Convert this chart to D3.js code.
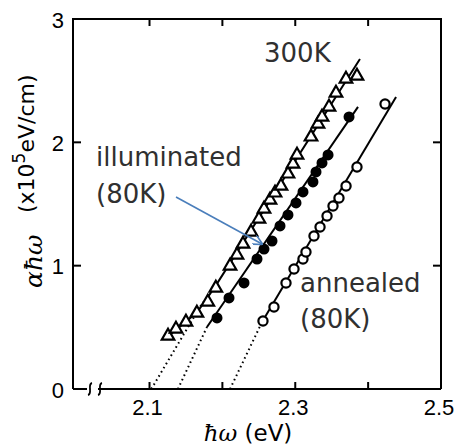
<!DOCTYPE html>
<html>
<head>
<meta charset="utf-8">
<script src="https://cdn.jsdelivr.net/npm/d3@7"></script>
<style>
    body { margin: 0; background: #fff; }
    svg { display: block; }
</style>
</head>
<body>
<svg id="chart"></svg>
<script>
// photon energy (eV), alpha*hbar*omega (x10^5 eV/cm)
const room300 = [
    [2.1254, 0.43], [2.1363, 0.487], [2.150, 0.543], [2.165, 0.616], [2.180, 0.706],
    [2.191, 0.819], [2.2105, 0.998], [2.220, 1.087], [2.2283, 1.176], [2.2393, 1.273],
    [2.2502, 1.379], [2.2571, 1.46], [2.2653, 1.533], [2.2722, 1.59], [2.2804, 1.646],
    [2.290, 1.744], [2.2969, 1.825], [2.3024, 1.898], [2.3216, 2.044], [2.3312, 2.149],
    [2.3367, 2.206], [2.3463, 2.287], [2.3559, 2.40], [2.3696, 2.514], [2.3847, 2.538],
];
const illum80 = [
    [2.1926, 0.576], [2.2091, 0.738], [2.2297, 0.86], [2.2475, 1.054], [2.2571, 1.135],
    [2.2681, 1.20], [2.2791, 1.322], [2.290, 1.411], [2.301, 1.509], [2.3106, 1.598],
    [2.3243, 1.679], [2.3285, 1.76], [2.3367, 1.833], [2.345, 1.898], [2.3738, 2.206],
];
const anneal80 = [
    [2.2557, 0.551], [2.2708, 0.665], [2.2873, 0.86], [2.2983, 0.973], [2.3106, 1.054],
    [2.3147, 1.111], [2.3257, 1.241], [2.334, 1.314], [2.3436, 1.403], [2.3518, 1.484],
    [2.360, 1.549], [2.3697, 1.646], [2.3847, 1.80], [2.4232, 2.311],
];

// solid guide lines and dotted extrapolations to the energy axis
const room300Fit = [[2.124, 0.42], [2.165, 0.62], [2.19, 0.83], [2.3888, 2.676]];
const illum80Fit = [[2.1789, 0.503], [2.3861, 2.287]];
const anneal80Fit = [[2.2544, 0.543], [2.4383, 2.368]];
const room300Dots = [[2.1025, 0], [2.1734, 0.706]];
const illum80Dots = [[2.139, 0], [2.1789, 0.503]];
const anneal80Dots = [[2.2105, 0], [2.2544, 0.543]];

const xTicks = [2.1, 2.2, 2.3, 2.4, 2.5];
const xTickLabels = ['2.1', '', '2.3', '', '2.5'];
const yTicks = [0, 1, 2, 3];

class Tauc {
    margin = { top: 19, right: 21, bottom: 58, left: 73 };

    constructor(svg, width = 462, height = 447) {
        this.svg = d3.select(svg);
        this.width = width;
        this.height = height;
    }

    initialize() {
        this.svg.attr('width', this.width).attr('height', this.height);
        this.svg.append('rect').attr('width', this.width).attr('height', this.height).attr('fill', '#fff');

        const m = this.margin;
        this.x0 = m.left;
        this.x1 = this.width - m.right;
        this.y0 = this.height - m.bottom;
        this.y1 = m.top;

        this.xScale = d3.scaleLinear().domain([1.995, 2.5]).range([this.x0, this.x1]);
        this.yScale = d3.scaleLinear().domain([0, 3]).range([this.y0, this.y1]);

        this.frame = this.svg.append('g');
        this.plot = this.svg.append('g');
        this.notes = this.svg.append('g');
    }

    drawFrame() {
        const x = this.xScale, y = this.yScale;
        const f = this.frame.attr('stroke', '#000').attr('stroke-width', 2).attr('fill', 'none');

        // left, top, right
        f.append('path').attr('d', `M${this.x0},${this.y0}V${this.y1}H${this.x1}V${this.y0}`);
        // bottom with the axis break
        f.append('path').attr('d', `M${this.x0},${this.y0}H${this.x0 + 14}`);
        f.append('path').attr('d', `M${this.x0 + 25},${this.y0}H${this.x1}`);
        [this.x0 + 17, this.x0 + 27].forEach(bx => {
            f.append('path')
                .attr('stroke-width', 1.8)
                .attr('d', `M${bx - 2},${this.y0 + 6} C${bx + 3},${this.y0 + 5} ${bx - 3},${this.y0 - 5} ${bx + 2},${this.y0 - 6}`);
        });

        const tk = 7;
        xTicks.slice(0, -1).forEach(t => {
            f.append('line').attr('x1', x(t)).attr('x2', x(t)).attr('y1', this.y0).attr('y2', this.y0 - tk);
            f.append('line').attr('x1', x(t)).attr('x2', x(t)).attr('y1', this.y1).attr('y2', this.y1 + tk);
        });
        yTicks.slice(1, -1).forEach(t => {
            f.append('line').attr('x1', this.x0).attr('x2', this.x0 + 8).attr('y1', y(t)).attr('y2', y(t));
            f.append('line').attr('x1', this.x1).attr('x2', this.x1 - 8).attr('y1', y(t)).attr('y2', y(t));
        });

        const lab = this.svg.append('g')
            .attr('font-family', '"Liberation Sans", Arial, sans-serif')
            .attr('font-size', 22)
            .attr('fill', '#000');
        lab.selectAll('.xt')
            .data(xTicks)
            .join('text')
            .attr('x', d => x(d) - 2)
            .attr('y', this.y0 + 26)
            .attr('text-anchor', 'middle')
            .text((d, i) => xTickLabels[i]);
        lab.selectAll('.yt')
            .data(yTicks)
            .join('text')
            .attr('x', this.x0 - 9)
            .attr('y', d => y(d) + 3)
            .attr('text-anchor', 'end')
            .attr('dominant-baseline', 'middle')
            .text(d => d);

        // axis titles
        const font = '"DejaVu Sans", Verdana, sans-serif';
        const xt = this.svg.append('text')
            .attr('x', 248)
            .attr('y', 441)
            .attr('text-anchor', 'middle')
            .attr('font-family', font)
            .attr('font-size', 23)
            .attr('fill', '#000');
        xt.append('tspan').attr('font-style', 'italic').attr('font-family', '"DejaVu Serif", serif').text('ħω');
        xt.append('tspan').text(' (eV)');

        const yt = this.svg.append('g').attr('transform', 'translate(34,213) rotate(-90)');
        const t1 = yt.append('text')
            .attr('font-family', font)
            .attr('font-size', 22)
            .attr('fill', '#000');
        t1.append('tspan').text('(x10');
        t1.append('tspan').attr('font-size', 17).attr('dy', -9).text('5');
        t1.append('tspan').attr('dy', 9).text('eV/cm)');
        this.svg.append('text')
            .attr('transform', 'translate(42,288) rotate(-90)')
            .attr('font-family', '"DejaVu Serif", serif')
            .attr('font-style', 'italic')
            .attr('font-size', 25)
            .attr('fill', '#000')
            .text('αħω');
    }

    update() {
        const x = this.xScale, y = this.yScale;
        const line = d3.line().x(d => x(d[0])).y(d => y(d[1]));

        [room300Dots, illum80Dots, anneal80Dots].forEach(d => {
            this.plot.append('path')
                .attr('d', line(d))
                .attr('fill', 'none')
                .attr('stroke', '#000')
                .attr('stroke-width', 2)
                .attr('stroke-dasharray', '1.6,3.2');
        });
        [room300Fit, illum80Fit, anneal80Fit].forEach(d => {
            this.plot.append('path')
                .attr('d', line(d))
                .attr('fill', 'none')
                .attr('stroke', '#000')
                .attr('stroke-width', 2);
        });

        this.plot.append('g')
            .selectAll('path')
            .data(room300)
            .join('path')
            .attr('transform', d => `translate(${x(d[0])},${y(d[1])})`)
            .attr('d', d3.symbol(d3.symbolTriangle, 68))
            .attr('fill', '#fff')
            .attr('stroke', '#000')
            .attr('stroke-width', 2.2);

        this.plot.append('g')
            .selectAll('circle')
            .data(illum80)
            .join('circle')
            .attr('cx', d => x(d[0]))
            .attr('cy', d => y(d[1]))
            .attr('r', 5.5)
            .attr('fill', '#000');

        this.plot.append('g')
            .selectAll('circle')
            .data(anneal80)
            .join('circle')
            .attr('cx', d => x(d[0]))
            .attr('cy', d => y(d[1]))
            .attr('r', 4.6)
            .attr('fill', '#fff')
            .attr('stroke', '#000')
            .attr('stroke-width', 2.2);
    }

    annotate() {
        const n = this.notes
            .attr('font-family', '"DejaVu Sans", Verdana, sans-serif')
            .attr('font-size', 26)
            .attr('fill', '#303030');
        n.append('text').attr('x', 264).attr('y', 62).text('300K');
        n.append('text').attr('x', 96).attr('y', 166).text('illuminated');
        n.append('text').attr('x', 96).attr('y', 203).text('(80K)');
        n.append('text').attr('x', 300).attr('y', 292).text('annealed');
        n.append('text').attr('x', 300).attr('y', 328).text('(80K)');

        this.svg.append('defs').append('marker')
            .attr('id', 'head')
            .attr('viewBox', '0 0 10 10')
            .attr('refX', 9)
            .attr('refY', 5)
            .attr('markerWidth', 10)
            .attr('markerHeight', 10)
            .attr('markerUnits', 'userSpaceOnUse')
            .attr('orient', 'auto')
            .append('path')
            .attr('d', 'M0,0L10,5L0,10')
            .attr('fill', 'none')
            .attr('stroke', '#4a7ebb')
            .attr('stroke-width', 1.6);
        this.svg.append('line')
            .attr('x1', 176).attr('y1', 197)
            .attr('x2', 262).attr('y2', 244)
            .attr('stroke', '#4a7ebb')
            .attr('stroke-width', 1.6)
            .attr('marker-end', 'url(#head)');
    }
}

const chart = new Tauc('#chart');
chart.initialize();
chart.drawFrame();
chart.update();
chart.annotate();
</script>
</body>
</html>
